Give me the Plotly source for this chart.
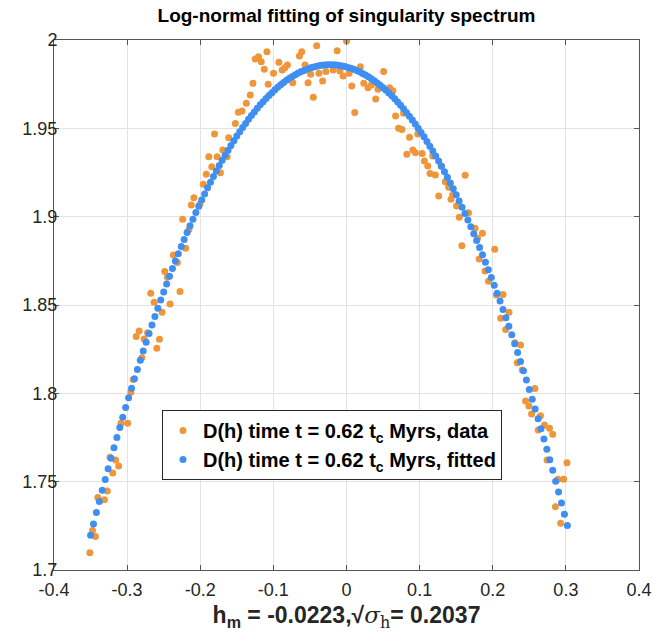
import plotly.graph_objects as go

# h values of the fitted spectrum (blue dots)
h_fit = [
    -0.350, -0.346, -0.342, -0.338, -0.334, -0.330, -0.326, -0.322, -0.318, -0.314,
    -0.310, -0.306, -0.302, -0.298, -0.294, -0.290, -0.286, -0.282, -0.278, -0.274,
    -0.270, -0.266, -0.262, -0.258, -0.254, -0.250, -0.246, -0.242, -0.238, -0.234,
    -0.230, -0.226, -0.222, -0.218, -0.214, -0.210, -0.206, -0.202, -0.198, -0.194,
    -0.190, -0.186, -0.182, -0.178, -0.174, -0.170, -0.166, -0.162, -0.158, -0.154,
    -0.150, -0.146, -0.142, -0.138, -0.134, -0.130, -0.126, -0.122, -0.118, -0.114,
    -0.110, -0.106, -0.102, -0.098, -0.094, -0.090, -0.086, -0.082, -0.078, -0.074,
    -0.070, -0.066, -0.062, -0.058, -0.054, -0.050, -0.046, -0.042, -0.038, -0.034,
    -0.030, -0.026,
    -0.022, -0.018, -0.014, -0.010, -0.006, -0.002, 0.002, 0.006, 0.010, 0.014,
    0.018, 0.022, 0.026, 0.030, 0.034, 0.038, 0.042, 0.046, 0.050, 0.054,
    0.058, 0.062, 0.066, 0.070, 0.074, 0.078, 0.082, 0.086, 0.090, 0.094,
    0.098, 0.102, 0.106, 0.110, 0.114, 0.118, 0.122, 0.126, 0.130, 0.134,
    0.138, 0.142, 0.146, 0.150, 0.154, 0.158, 0.162, 0.166, 0.170, 0.174,
    0.178, 0.182, 0.186, 0.190, 0.194, 0.198, 0.202, 0.206, 0.210, 0.214,
    0.218, 0.222, 0.226, 0.230, 0.234, 0.238, 0.242, 0.246, 0.250, 0.254,
    0.258, 0.262, 0.266, 0.270, 0.274, 0.278, 0.282, 0.286, 0.290, 0.294,
    0.298, 0.302,
]
D_fit = [
    1.7197, 1.7261, 1.7325, 1.7388, 1.7451, 1.7512, 1.7573, 1.7632, 1.7692, 1.7750,
    1.7807, 1.7864, 1.7920, 1.7975, 1.8029, 1.8083, 1.8135, 1.8187, 1.8239, 1.8289,
    1.8338, 1.8387, 1.8435, 1.8482, 1.8529, 1.8574, 1.8619, 1.8663, 1.8706, 1.8749,
    1.8790, 1.8831, 1.8871, 1.8910, 1.8949, 1.8986, 1.9023, 1.9059, 1.9094, 1.9129,
    1.9163, 1.9195, 1.9228, 1.9259, 1.9289, 1.9319, 1.9348, 1.9376, 1.9403, 1.9430,
    1.9456, 1.9481, 1.9505, 1.9528, 1.9551, 1.9572, 1.9593, 1.9613, 1.9633, 1.9651,
    1.9669, 1.9686, 1.9702, 1.9718, 1.9733, 1.9746, 1.9759, 1.9772, 1.9783, 1.9794,
    1.9804, 1.9813, 1.9821, 1.9828, 1.9835, 1.9841, 1.9846, 1.9850, 1.9854, 1.9857,
    1.9859, 1.9860,
    1.9860, 1.9860, 1.9858, 1.9856, 1.9853, 1.9850, 1.9845, 1.9840, 1.9834, 1.9827,
    1.9820, 1.9811, 1.9802, 1.9792, 1.9781, 1.9770, 1.9757, 1.9744, 1.9730, 1.9716,
    1.9700, 1.9684, 1.9667, 1.9649, 1.9630, 1.9611, 1.9590, 1.9569, 1.9547, 1.9525,
    1.9501, 1.9477, 1.9452, 1.9426, 1.9399, 1.9372, 1.9344, 1.9315, 1.9285, 1.9254,
    1.9223, 1.9191, 1.9158, 1.9124, 1.9089, 1.9054, 1.9018, 1.8981, 1.8943, 1.8904,
    1.8865, 1.8825, 1.8784, 1.8742, 1.8700, 1.8656, 1.8612, 1.8567, 1.8522, 1.8475,
    1.8428, 1.8380, 1.8331, 1.8281, 1.8231, 1.8180, 1.8128, 1.8075, 1.8021, 1.7967,
    1.7912, 1.7856, 1.7799, 1.7741, 1.7683, 1.7624, 1.7564, 1.7503, 1.7441, 1.7379,
    1.7316, 1.7252,
]

h_data = [
    -0.3510, -0.3474, -0.3434, -0.3401, -0.3311, -0.3271, -0.3234, -0.3197, -0.3157, -0.3116,
    -0.3084, -0.2993, -0.2948, -0.2917, -0.2876, -0.2835, -0.2799, -0.2767, -0.2721, -0.2677,
    -0.2631, -0.2594, -0.2558, -0.2522, -0.2486, -0.2449, -0.2413, -0.2367, -0.2313, -0.2277,
    -0.2241, -0.2200, -0.2155, -0.2122, -0.2087, -0.2005, -0.1959, -0.1918, -0.1883, -0.1842,
    -0.1805, -0.1769, -0.1724, -0.1692, -0.1633, -0.1611, -0.1520, -0.1479, -0.1429, -0.1370,
    -0.1316, -0.1279, -0.1248, -0.1203, -0.1166, -0.1125, -0.1088, -0.1071, -0.0998, -0.0925,
    -0.0880, -0.0844, -0.0808, -0.0735, -0.0644, -0.0612, -0.0567, -0.0526, -0.0490, -0.0454,
    -0.0408, -0.0377, -0.0327, -0.0282, -0.0182, -0.0128, -0.0091, -0.0046, 0.0000, 0.0036,
    0.0072, 0.0113, 0.0190, 0.0236, 0.0294, 0.0340, 0.0399, 0.0430, 0.0508, 0.0589,
    0.0634, 0.0671, 0.0712, 0.0757, 0.0780, 0.0825, 0.0862, 0.0907, 0.0943, 0.0975,
    0.1034, 0.1065, 0.1111, 0.1143, 0.1179, 0.1215, 0.1261, 0.1293, 0.1351, 0.1397,
    0.1429, 0.1451, 0.1505, 0.1542, 0.1578, 0.1623, 0.1668, 0.1759, 0.1791, 0.1814,
    0.1859, 0.1895, 0.1941, 0.2027, 0.2050, 0.2109, 0.2141, 0.2177, 0.2222, 0.2303,
    0.2335, 0.2381, 0.2403, 0.2449, 0.2494, 0.2531, 0.2576, 0.2621, 0.2653, 0.2707,
    0.2743, 0.2776, 0.2820, 0.2857, 0.2893, 0.2929, 0.2970, 0.3015,
]
D_data = [
    1.7098, 1.7223, 1.7189, 1.7411, 1.7398, 1.7447, 1.7638, 1.7549, 1.7623, 1.7589,
    1.7830, 1.7830, 1.8006, 1.8079, 1.8321, 1.8353, 1.8202, 1.8308, 1.8343, 1.8566,
    1.8515, 1.8255, 1.8306, 1.8459, 1.8689, 1.8657, 1.8506, 1.8783, 1.8740, 1.8577,
    1.8985, 1.8821, 1.8928, 1.9066, 1.9107, 1.9072, 1.9183, 1.9240, 1.9339, 1.9283,
    1.9468, 1.9339, 1.9249, 1.9377, 1.9339, 1.9447, 1.9528, 1.9591, 1.9598, 1.9642,
    1.9689, 1.9755, 1.9892, 1.9905, 1.9877, 1.9834, 1.9934, 1.9749, 1.9812, 1.9874,
    1.9830, 1.9843, 1.9858, 1.9758, 1.9909, 1.9934, 1.9858, 1.9758, 1.9806, 1.9676,
    1.9968, 1.9812, 1.9768, 1.9821, 1.9830, 1.9939, 1.9825, 1.9796, 1.9995, 1.9812,
    1.9740, 1.9589, 1.9849, 1.9755, 1.9730, 1.9745, 1.9666, 1.9721, 1.9821, 1.9730,
    1.9713, 1.9570, 1.9500, 1.9494, 1.9585, 1.9353, 1.9449, 1.9377, 1.9362, 1.9468,
    1.9358, 1.9315, 1.9287, 1.9245, 1.9343, 1.9236, 1.9117, 1.9287, 1.9198, 1.9166,
    1.9098, 1.9123, 1.9060, 1.8996, 1.8836, 1.9234, 1.9022, 1.8934, 1.8878, 1.8760,
    1.8906, 1.8692, 1.8634, 1.8815, 1.8557, 1.8425, 1.8560, 1.8362, 1.8459, 1.8287,
    1.8173, 1.8274, 1.8132, 1.7957, 1.7928, 1.7883, 1.8028, 1.7792, 1.7873, 1.7821,
    1.7623, 1.7802, 1.7768, 1.7358, 1.7513, 1.7264, 1.7513, 1.7607,
]

x_ticks = [-0.4, -0.3, -0.2, -0.1, 0, 0.1, 0.2, 0.3, 0.4]
x_labels = ["-0.4", "-0.3", "-0.2", "-0.1", "0", "0.1", "0.2", "0.3", "0.4"]
y_ticks = [1.7, 1.75, 1.8, 1.85, 1.9, 1.95, 2.0]
y_labels = ["1.7", "1.75", "1.8", "1.85", "1.9", "1.95", "2"]

FONT = "Liberation Sans, Arial, sans-serif"
ORANGE = "#F0963A"
BLUE = "#3F8FF2"

W, H = 654, 632
M_L, M_R, M_T, M_B = 54, 15, 40, 62

fig = go.Figure()

fig.add_trace(
    go.Scatter(
        x=h_data,
        y=D_data,
        mode="markers",
        marker={"color": ORANGE, "size": 7},
        name="<b>D(h) time t = 0.62 t<sub>c</sub> Myrs, data</b>",
    )
)
fig.add_trace(
    go.Scatter(
        x=h_fit,
        y=D_fit,
        mode="markers",
        marker={"color": BLUE, "size": 7},
        name="<b>D(h) time t = 0.62 t<sub>c</sub> Myrs, fitted</b>",
    )
)

axis_common = dict(
    automargin=False,
    showline=True,
    linecolor="#555555",
    linewidth=1,
    mirror="ticks",
    ticks="inside",
    ticklen=5,
    tickcolor="#555555",
    showgrid=True,
    gridcolor="#e3e3e3",
    gridwidth=1,
    zeroline=False,
    tickfont={"family": FONT, "size": 18, "color": "#262626"},
)

sigma = (
    "√<span style=\"font-family:'DejaVu Serif';font-weight:normal\">"
    "<i>σ</i><sub>h</sub></span>"
)

plot_w = W - M_L - M_R
plot_h = H - M_T - M_B

fig.update_layout(
    width=W,
    height=H,
    paper_bgcolor="white",
    plot_bgcolor="white",
    margin={"l": M_L, "r": M_R, "t": M_T, "b": M_B, "autoexpand": False},
    title={
        "text": "<b>Log-normal fitting of singularity spectrum</b>",
        "x": (M_L + plot_w / 2) / W,
        "xanchor": "center",
        "y": 1 - 15 / H,
        "yanchor": "middle",
        "font": {"family": FONT, "size": 19, "color": "black"},
    },
    xaxis=dict(
        axis_common,
        range=[-0.4, 0.4],
        tickvals=x_ticks,
        ticktext=x_labels,
        ticklabelstandoff=3,
        title={
            "text": "<b>h<sub>m</sub> = -0.0223," + sigma + "= 0.2037</b>",
            "font": {"family": FONT, "size": 23, "color": "#262626"},
            "standoff": 10,
        },
    ),
    yaxis=dict(
        axis_common,
        range=[1.7, 2.0],
        tickvals=y_ticks,
        ticktext=y_labels,
        ticklabelstandoff=-8,
    ),
    legend={
        "x": (162 - M_L) / plot_w,
        "y": (570 - 410) / plot_h,
        "xanchor": "left",
        "yanchor": "top",
        "bgcolor": "white",
        "bordercolor": "#262626",
        "borderwidth": 1,
        "font": {"family": FONT, "size": 20, "color": "black"},
        "itemsizing": "trace",
        "tracegroupgap": 0,
    },
    showlegend=True,
)

# drop the page margin so the figure fills the window exactly
fig.write_html(
    "out.html",
    config={"displayModeBar": False},
    post_script="document.body.style.margin = '0'; document.body.style.overflow = 'hidden';",
)
